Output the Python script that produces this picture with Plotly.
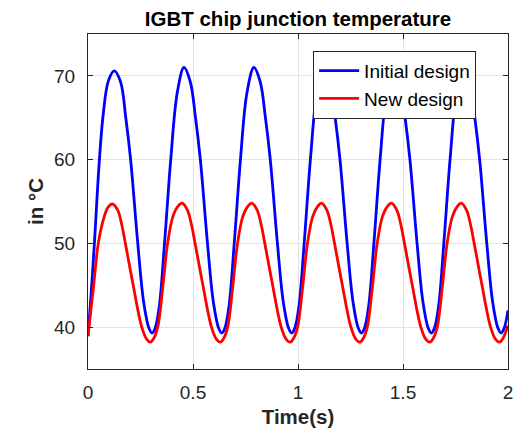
import plotly.graph_objects as go

# ---- data ----
t_initial = [0.000, 0.015, 0.030, 0.053, 0.072, 0.097, 0.125,
             0.155, 0.180, 0.203, 0.237, 0.265, 0.290, 0.305,
             0.320, 0.340, 0.365, 0.394, 0.425, 0.457,
             0.487, 0.512, 0.535, 0.569, 0.597, 0.622, 0.637,
             0.652, 0.672, 0.697, 0.726, 0.757, 0.790,
             0.820, 0.845, 0.868, 0.902, 0.930, 0.955, 0.970,
             0.985, 1.005, 1.030, 1.059, 1.090, 1.122,
             1.152, 1.177, 1.200, 1.234, 1.262, 1.287, 1.302,
             1.317, 1.337, 1.362, 1.391, 1.422, 1.455,
             1.485, 1.510, 1.533, 1.567, 1.595, 1.620, 1.635,
             1.650, 1.670, 1.695, 1.724, 1.755, 1.787,
             1.817, 1.842, 1.865, 1.899, 1.927, 1.952, 1.967,
             1.982, 2.000]
v_initial = [38.9, 44.0, 49.8, 59.5, 65.3, 69.4, 70.6,
             69.3, 65.0, 60.0, 50.0, 43.0, 39.9, 39.3,
             39.9, 42.6, 50.2, 60.0, 68.0, 71.0,
             69.3, 65.0, 60.0, 50.0, 43.0, 39.9, 39.3,
             39.9, 42.6, 50.2, 60.0, 68.0, 71.0,
             69.3, 65.0, 60.0, 50.0, 43.0, 39.9, 39.3,
             39.9, 42.6, 50.2, 60.0, 68.0, 71.0,
             69.3, 65.0, 60.0, 50.0, 43.0, 39.9, 39.3,
             39.9, 42.6, 50.2, 60.0, 68.0, 71.0,
             69.3, 65.0, 60.0, 50.0, 43.0, 39.9, 39.3,
             39.9, 42.6, 50.2, 60.0, 68.0, 71.0,
             69.3, 65.0, 60.0, 50.0, 43.0, 39.9, 39.3,
             39.9, 42.0]

t_new = [0.000, 0.025, 0.049, 0.075, 0.095, 0.116,
         0.141, 0.161, 0.178, 0.213, 0.256, 0.281, 0.297,
         0.312, 0.332, 0.355, 0.379, 0.404, 0.427, 0.448,
         0.473, 0.493, 0.510, 0.545, 0.588, 0.613, 0.630,
         0.645, 0.665, 0.688, 0.712, 0.737, 0.760, 0.780,
         0.805, 0.825, 0.842, 0.877, 0.920, 0.945, 0.963,
         0.978, 0.998, 1.021, 1.045, 1.070, 1.093, 1.112,
         1.137, 1.157, 1.174, 1.209, 1.252, 1.277, 1.295,
         1.310, 1.330, 1.353, 1.377, 1.402, 1.425, 1.445,
         1.470, 1.490, 1.507, 1.542, 1.585, 1.610, 1.628,
         1.643, 1.663, 1.686, 1.710, 1.735, 1.758, 1.777,
         1.802, 1.822, 1.839, 1.874, 1.917, 1.942, 1.960,
         1.975, 2.000]
v_new = [39.0, 44.5, 50.0, 53.0, 54.3, 54.7,
         54.0, 52.2, 50.0, 45.3, 40.0, 38.5, 38.2,
         38.6, 40.0, 44.5, 50.0, 53.2, 54.4, 54.8,
         54.0, 52.2, 50.0, 45.3, 40.0, 38.5, 38.2,
         38.6, 40.0, 44.5, 50.0, 53.2, 54.4, 54.8,
         54.0, 52.2, 50.0, 45.3, 40.0, 38.5, 38.2,
         38.6, 40.0, 44.5, 50.0, 53.2, 54.4, 54.8,
         54.0, 52.2, 50.0, 45.3, 40.0, 38.5, 38.2,
         38.6, 40.0, 44.5, 50.0, 53.2, 54.4, 54.8,
         54.0, 52.2, 50.0, 45.3, 40.0, 38.5, 38.2,
         38.6, 40.0, 44.5, 50.0, 53.2, 54.4, 54.8,
         54.0, 52.2, 50.0, 45.3, 40.0, 38.5, 38.2,
         38.6, 40.2]

x_ticks = [0, 0.5, 1, 1.5, 2]
x_tick_labels = ["0", "0.5", "1", "1.5", "2"]
y_ticks = [40, 50, 60, 70]
y_tick_labels = ["40", "50", "60", "70"]

series_names = ["Initial design", "New design"]
series_colors = ["#0000ff", "#ff0000"]

FONT = "Liberation Sans, Arial, sans-serif"
AX = "#262626"

fig = go.Figure()
fig.add_trace(go.Scatter(x=t_initial, y=v_initial, mode="lines", name=series_names[0],
                         line=dict(color=series_colors[0], width=2.8, shape="spline", smoothing=1.0)))
fig.add_trace(go.Scatter(x=t_new, y=v_new, mode="lines", name=series_names[1],
                         line=dict(color=series_colors[1], width=2.8, shape="spline", smoothing=1.0)))

axis_common = dict(showline=True, linecolor=AX, linewidth=1.3, mirror="ticks",
                   ticks="inside", ticklen=5, tickwidth=1.3, tickcolor=AX,
                   showgrid=True, gridcolor="#e3e3e3", gridwidth=1,
                   zeroline=False, automargin=False,
                   tickfont=dict(family=FONT, size=19, color=AX))

fig.update_layout(
    width=517, height=431,
    margin=dict(l=88, r=9, t=34, b=62),
    paper_bgcolor="white", plot_bgcolor="white",
    title=dict(text="<b>IGBT chip junction temperature</b>", x=0.5, xanchor="center",
               xref="paper", y=1 - 19 / 431, yref="container", yanchor="middle",
               font=dict(family=FONT, size=20.5, color="#000000")),
    xaxis=dict(range=[0, 2], tickvals=x_ticks, ticktext=x_tick_labels,
               title=dict(text="<b>Time(s)</b>", standoff=7,
                          font=dict(family=FONT, size=20.5, color=AX)),
               ticklabelstandoff=6, **axis_common),
    yaxis=dict(range=[35, 75], tickvals=y_ticks, ticktext=y_tick_labels,
               title=dict(text="<b>in °C</b>", standoff=4,
                          font=dict(family=FONT, size=20.5, color=AX)),
               ticklabelstandoff=8, **axis_common),
    legend=dict(x=0.536, y=0.95, xanchor="left", yanchor="top",
                bgcolor="white", bordercolor=AX, borderwidth=1,
                font=dict(family=FONT, size=19, color="#000000"),
                tracegroupgap=0, itemwidth=40),
    showlegend=True,
)

fig.write_html("out.html", config={"displayModeBar": False},
               post_script="document.body.style.margin='0px';document.body.style.overflow='hidden';")
